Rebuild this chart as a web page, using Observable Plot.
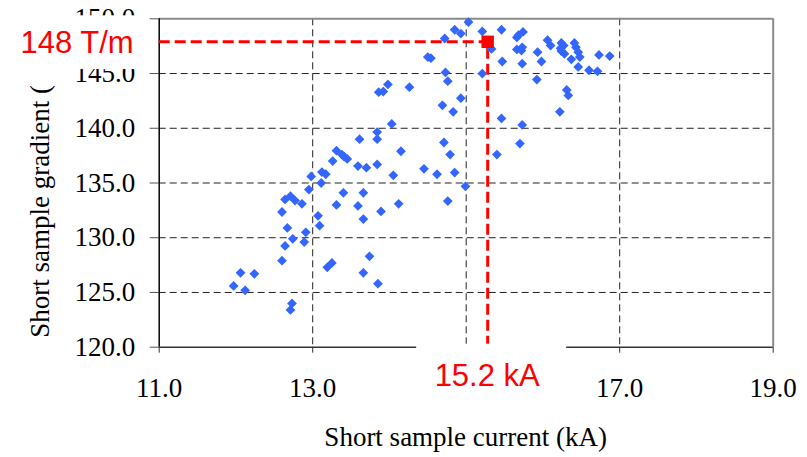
<!DOCTYPE html>
<html><head><meta charset="utf-8">
<script src="https://cdn.jsdelivr.net/npm/d3@7"></script>
<script src="https://cdn.jsdelivr.net/npm/@observablehq/plot@0.6"></script>
<style>
body{margin:0;background:#fff;}
#chart{width:807px;height:457px;}
</style></head><body><div id="chart"></div>
<script>
// Short sample current (kA)
const currentKA = [
 11.97,12.06,12.12,12.24,12.73,12.71,12.60,12.64,12.74,12.89,
 12.67,12.91,13.09,13.07,12.60,12.64,12.71,12.77,12.86,12.95,
 12.98,13.11,13.12,13.17,13.26,13.31,13.38,13.41,13.45,13.40,
 13.31,13.59,13.70,13.84,13.66,13.59,13.66,13.89,14.12,13.19,
 13.25,13.74,13.66,13.85,13.61,13.84,13.84,14.03,14.15,14.05,
 14.45,14.62,14.85,14.99,14.76,14.71,14.79,14.69,14.83,14.93,
 13.86,13.92,13.98,14.26,14.73,14.76,14.50,14.54,14.72,14.85,
 14.93,15.03,15.21,15.46,15.66,15.74,15.68,15.33,15.66,15.73,
 15.72,15.47,15.73,15.93,15.98,16.06,16.10,16.24,16.27,16.23,
 16.28,16.24,16.41,16.43,16.46,16.48,16.37,16.46,16.60,16.71,
 16.73,16.87,15.92,15.21,16.31,16.33,16.22,15.46,15.73,15.70,
 15.40
];
// Short sample gradient (T/m)
const gradientTm = [
 125.6,126.8,125.2,126.7,124.0,123.4,127.9,129.25,129.9,129.6,
 130.9,130.5,131.1,132.0,132.35,133.5,133.8,133.4,133.1,134.4,
 135.6,135.0,136.0,135.8,137.0,137.95,137.6,137.4,137.2,134.1,
 133.0,136.55,136.4,136.7,134.1,132.9,131.7,132.4,133.1,127.3,
 127.7,128.3,126.8,125.8,139.0,139.0,139.65,140.4,137.9,135.7,
 136.3,135.8,135.95,134.7,133.35,138.7,137.6,142.1,141.5,142.75,
 143.3,143.35,144.0,143.75,145.1,144.3,146.5,146.4,148.2,149.0,
 148.65,149.7,148.85,149.0,148.3,148.8,148.5,147.25,147.2,147.4,
 147.1,146.1,145.9,146.95,146.1,148.05,147.55,147.8,147.55,147.3,
 146.8,147.05,147.8,147.4,146.95,146.5,146.3,145.6,145.3,145.2,
 146.7,146.6,144.45,145.0,143.5,143.0,141.5,140.9,140.3,138.6,
 137.6
];
const xTicks = [11, 13, 15, 17, 19];
const xTickLabels = ["11.0", "13.0", "", "17.0", "19.0"]; // 15.0 hidden by the annotation
const yTicks = [120, 125, 130, 135, 140, 145, 150];
const xGrid = [13, 15, 17];
const yGrid = [125, 130, 135, 140, 145];
const markX = 15.28, markY = 147.9;
const markXLabel = "15.2 kA", markYLabel = "148 T/m";
const xTitle = "Short sample current (kA)";
const yTitle = "Short sample gradient (";

const points = currentKA.map((x, i) => ({x, y: gradientTm[i]}));
const serif = "'Liberation Serif','Times New Roman',serif";
const sans = "'Liberation Sans',Arial,sans-serif";

const plot = Plot.plot({
  width: 807, height: 457,
  marginLeft: 158.7, marginRight: 34.3, marginTop: 18.3, marginBottom: 110.3,
  x: {domain: [11, 19]},
  y: {domain: [120, 150]},
  style: {fontFamily: serif, fontSize: "27px", background: "#fff", overflow: "visible", color: "#000"},
  marks: [
    Plot.ruleX(xGrid, {stroke: "#222", strokeWidth: 1, strokeDasharray: "7,4"}),
    Plot.ruleY(yGrid, {stroke: "#222", strokeWidth: 1, strokeDasharray: "7,4"}),
    Plot.ruleY([150], {stroke: "#8a8a8a", strokeWidth: 2}),
    Plot.ruleX([19], {stroke: "#8a8a8a", strokeWidth: 2}),
    Plot.ruleX([11], {stroke: "#000", strokeWidth: 1.5}),
    Plot.ruleY([120], {stroke: "#333", strokeWidth: 1.5}),
    Plot.axisY({ticks: yTicks, tickFormat: d => d.toFixed(1), tickSize: 9, tickPadding: 15, stroke: "#555", fill: "#000", label: null}),
    Plot.axisX({ticks: xTicks, tickFormat: d => xTickLabels[xTicks.indexOf(d)], tickSize: 6, tickPadding: 25, stroke: "#333", fill: "#000", label: null}),
    Plot.ruleY([markY], {x1: 11, x2: markX, stroke: "#ff0000", strokeWidth: 3, strokeDasharray: "11,5"}),
    Plot.ruleX([markX], {y1: 120, y2: markY, stroke: "#ff0000", strokeWidth: 3, strokeDasharray: "11,5"}),
    Plot.dot(points, {x: "x", y: "y", symbol: "diamond2", r: 4.4, fill: "#3366ff", stroke: "none"}),
    Plot.dot([{x: markX, y: markY}], {x: "x", y: "y", symbol: "square", r: 7, fill: "#ff0000", stroke: "none"})
  ]
});
document.getElementById("chart").appendChild(plot);

const svg = d3.select(plot);
const xs = plot.scale("x"), ys = plot.scale("y");
const X = v => xs.apply(v), Y = v => ys.apply(v);

// axis titles
svg.append("text")
  .attr("x", X(15)).attr("y", Y(120) + 99)
  .attr("text-anchor", "middle").attr("font-family", serif).attr("font-size", 27).attr("fill", "#000")
  .text(xTitle);
svg.append("text")
  .attr("transform", `translate(49,${Y(120) - 9}) rotate(-90)`)
  .attr("text-anchor", "start").attr("font-family", serif).attr("font-size", 27).attr("fill", "#000")
  .text(yTitle);

// gradient annotation (white box + red text)
svg.append("rect")
  .attr("x", 8).attr("y", Y(150) - 3)
  .attr("width", X(11) - 12 - 8).attr("height", (Y(145) - 4) - (Y(150) - 3))
  .attr("fill", "#fff");
svg.append("text")
  .attr("x", X(11) - 25).attr("y", Y(markY) + 12)
  .attr("text-anchor", "end").attr("font-family", sans).attr("font-size", 31).attr("fill", "#ff0000")
  .text(markYLabel);

// current annotation (white box + red text)
svg.append("rect")
  .attr("x", X(markX) - 71).attr("y", Y(120) - 3)
  .attr("width", 150).attr("height", 58)
  .attr("fill", "#fff");
svg.append("text")
  .attr("x", X(markX)).attr("y", Y(120) + 39)
  .attr("text-anchor", "middle").attr("font-family", sans).attr("font-size", 31).attr("fill", "#ff0000")
  .text(markXLabel);
</script></body></html>
